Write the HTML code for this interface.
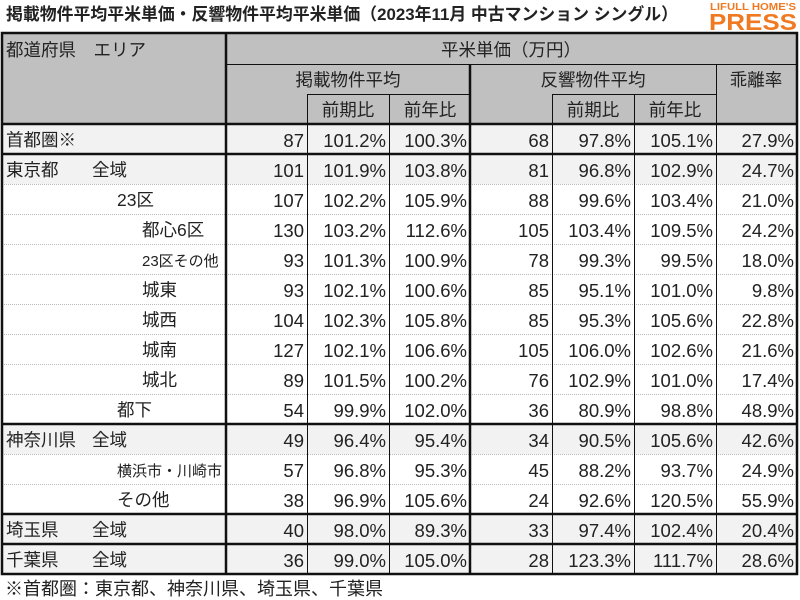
<!DOCTYPE html>
<html><head><meta charset="utf-8"><style>
html,body{margin:0;padding:0;background:#fff;width:800px;height:600px;overflow:hidden}
svg text{font-family:"Liberation Sans","Noto Sans CJK JP",sans-serif;fill:#222}
</style></head><body>
<svg width="800" height="600" viewBox="0 0 800 600" xmlns="http://www.w3.org/2000/svg">
<text x="6" y="20" font-size="17" font-weight="bold" fill="#111" textLength="672" lengthAdjust="spacingAndGlyphs">掲載物件平均平米単価・反響物件平均平米単価（2023年11月 中古マンション シングル）</text>
<text x="710" y="10" font-size="10" font-weight="bold" style="fill:#f07a22" textLength="86" lengthAdjust="spacingAndGlyphs">LIFULL HOME'S</text>
<text x="709" y="30" font-size="23" font-weight="bold" style="fill:#f07a22" textLength="88" lengthAdjust="spacingAndGlyphs">PRESS</text>
<!-- header bg -->
<rect x="2" y="33" width="795" height="91" fill="#c0c0c0"/>
<!-- shaded rows -->
<g fill="#f2f2f2">
<rect x="2" y="124" width="795" height="30"/>
<rect x="2" y="154" width="795" height="30"/>
<rect x="2" y="424" width="795" height="30"/>
<rect x="2" y="514" width="795" height="30"/>
<rect x="2" y="544" width="795" height="30"/>
</g>
<!-- dotted lines -->
<g stroke="#bbb" stroke-width="1" stroke-dasharray="1,1">
<line x1="2" y1="184.5" x2="797" y2="184.5"/><line x1="2" y1="214.5" x2="797" y2="214.5"/>
<line x1="2" y1="244.5" x2="797" y2="244.5"/><line x1="2" y1="274.5" x2="797" y2="274.5"/>
<line x1="2" y1="304.5" x2="797" y2="304.5"/><line x1="2" y1="334.5" x2="797" y2="334.5"/>
<line x1="2" y1="364.5" x2="797" y2="364.5"/><line x1="2" y1="394.5" x2="797" y2="394.5"/>
<line x1="2" y1="454.5" x2="797" y2="454.5"/><line x1="2" y1="484.5" x2="797" y2="484.5"/>
</g>
<!-- thin lines -->
<g stroke="#111" stroke-width="1">
<line x1="226" y1="64.5" x2="797" y2="64.5"/>
<line x1="307" y1="94.5" x2="470" y2="94.5"/>
<line x1="552" y1="94.5" x2="716" y2="94.5"/>
<line x1="307.5" y1="94" x2="307.5" y2="574"/>
<line x1="389.5" y1="94" x2="389.5" y2="574"/>
<line x1="552.5" y1="94" x2="552.5" y2="574"/>
<line x1="634.5" y1="94" x2="634.5" y2="574"/>
<line x1="716.5" y1="64" x2="716.5" y2="574"/>
</g>
<!-- thick lines -->
<g stroke="#111" stroke-width="2.5">
<rect x="2" y="33" width="795" height="541" fill="none"/>
<line x1="226" y1="33" x2="226" y2="574"/>
<line x1="470" y1="64" x2="470" y2="574"/>
<line x1="2" y1="124" x2="797" y2="124"/>
<line x1="2" y1="154" x2="797" y2="154"/>
<line x1="2" y1="424" x2="797" y2="424"/>
<line x1="2" y1="514" x2="797" y2="514"/>
<line x1="2" y1="544" x2="797" y2="544"/>
</g>
<!-- header text -->
<g font-size="17.5" fill="#333">
<text x="6" y="56">都道府県　エリア</text>
<text x="511" y="56" text-anchor="middle">平米単価（万円）</text>
<text x="348" y="86" text-anchor="middle">掲載物件平均</text>
<text x="593" y="86" text-anchor="middle">反響物件平均</text>
<text x="756" y="86" text-anchor="middle">乖離率</text>
<text x="348" y="116" text-anchor="middle">前期比</text>
<text x="430" y="116" text-anchor="middle">前年比</text>
<text x="593" y="116" text-anchor="middle">前期比</text>
<text x="675" y="116" text-anchor="middle">前年比</text>
</g>
<!-- labels -->
<g font-size="17.5">
<text x="6" y="146">首都圏※</text>
<text x="6" y="176">東京都</text><text x="92" y="176">全域</text>
<text x="117" y="206">23区</text>
<text x="142" y="236">都心6区</text>
<text x="142" y="266" font-size="15">23区その他</text>
<text x="142" y="296">城東</text>
<text x="142" y="326">城西</text>
<text x="142" y="356">城南</text>
<text x="142" y="386">城北</text>
<text x="117" y="416">都下</text>
<text x="6" y="446">神奈川県</text><text x="92" y="446">全域</text>
<text x="117" y="476" font-size="15">横浜市・川崎市</text>
<text x="117" y="506">その他</text>
<text x="6" y="536">埼玉県</text><text x="92" y="536">全域</text>
<text x="6" y="566">千葉県</text><text x="92" y="566">全域</text>
</g>
<g font-size="18.5" text-anchor="end">
<g transform="translate(0,147)">
<text x="304">87</text><text x="386">101.2%</text><text x="467">100.3%</text><text x="549">68</text><text x="631">97.8%</text><text x="713">105.1%</text><text x="794">27.9%</text></g>
<g transform="translate(0,177)">
<text x="304">101</text><text x="386">101.9%</text><text x="467">103.8%</text><text x="549">81</text><text x="631">96.8%</text><text x="713">102.9%</text><text x="794">24.7%</text></g>
<g transform="translate(0,207)">
<text x="304">107</text><text x="386">102.2%</text><text x="467">105.9%</text><text x="549">88</text><text x="631">99.6%</text><text x="713">103.4%</text><text x="794">21.0%</text></g>
<g transform="translate(0,237)">
<text x="304">130</text><text x="386">103.2%</text><text x="467">112.6%</text><text x="549">105</text><text x="631">103.4%</text><text x="713">109.5%</text><text x="794">24.2%</text></g>
<g transform="translate(0,267)">
<text x="304">93</text><text x="386">101.3%</text><text x="467">100.9%</text><text x="549">78</text><text x="631">99.3%</text><text x="713">99.5%</text><text x="794">18.0%</text></g>
<g transform="translate(0,297)">
<text x="304">93</text><text x="386">102.1%</text><text x="467">100.6%</text><text x="549">85</text><text x="631">95.1%</text><text x="713">101.0%</text><text x="794">9.8%</text></g>
<g transform="translate(0,327)">
<text x="304">104</text><text x="386">102.3%</text><text x="467">105.8%</text><text x="549">85</text><text x="631">95.3%</text><text x="713">105.6%</text><text x="794">22.8%</text></g>
<g transform="translate(0,357)">
<text x="304">127</text><text x="386">102.1%</text><text x="467">106.6%</text><text x="549">105</text><text x="631">106.0%</text><text x="713">102.6%</text><text x="794">21.6%</text></g>
<g transform="translate(0,387)">
<text x="304">89</text><text x="386">101.5%</text><text x="467">100.2%</text><text x="549">76</text><text x="631">102.9%</text><text x="713">101.0%</text><text x="794">17.4%</text></g>
<g transform="translate(0,417)">
<text x="304">54</text><text x="386">99.9%</text><text x="467">102.0%</text><text x="549">36</text><text x="631">80.9%</text><text x="713">98.8%</text><text x="794">48.9%</text></g>
<g transform="translate(0,447)">
<text x="304">49</text><text x="386">96.4%</text><text x="467">95.4%</text><text x="549">34</text><text x="631">90.5%</text><text x="713">105.6%</text><text x="794">42.6%</text></g>
<g transform="translate(0,477)">
<text x="304">57</text><text x="386">96.8%</text><text x="467">95.3%</text><text x="549">45</text><text x="631">88.2%</text><text x="713">93.7%</text><text x="794">24.9%</text></g>
<g transform="translate(0,507)">
<text x="304">38</text><text x="386">96.9%</text><text x="467">105.6%</text><text x="549">24</text><text x="631">92.6%</text><text x="713">120.5%</text><text x="794">55.9%</text></g>
<g transform="translate(0,537)">
<text x="304">40</text><text x="386">98.0%</text><text x="467">89.3%</text><text x="549">33</text><text x="631">97.4%</text><text x="713">102.4%</text><text x="794">20.4%</text></g>
<g transform="translate(0,567)">
<text x="304">36</text><text x="386">99.0%</text><text x="467">105.0%</text><text x="549">28</text><text x="631">123.3%</text><text x="713">111.7%</text><text x="794">28.6%</text></g>
</g>
<text x="5" y="595" font-size="18">※首都圏：東京都、神奈川県、埼玉県、千葉県</text>
</svg>
</body></html>
